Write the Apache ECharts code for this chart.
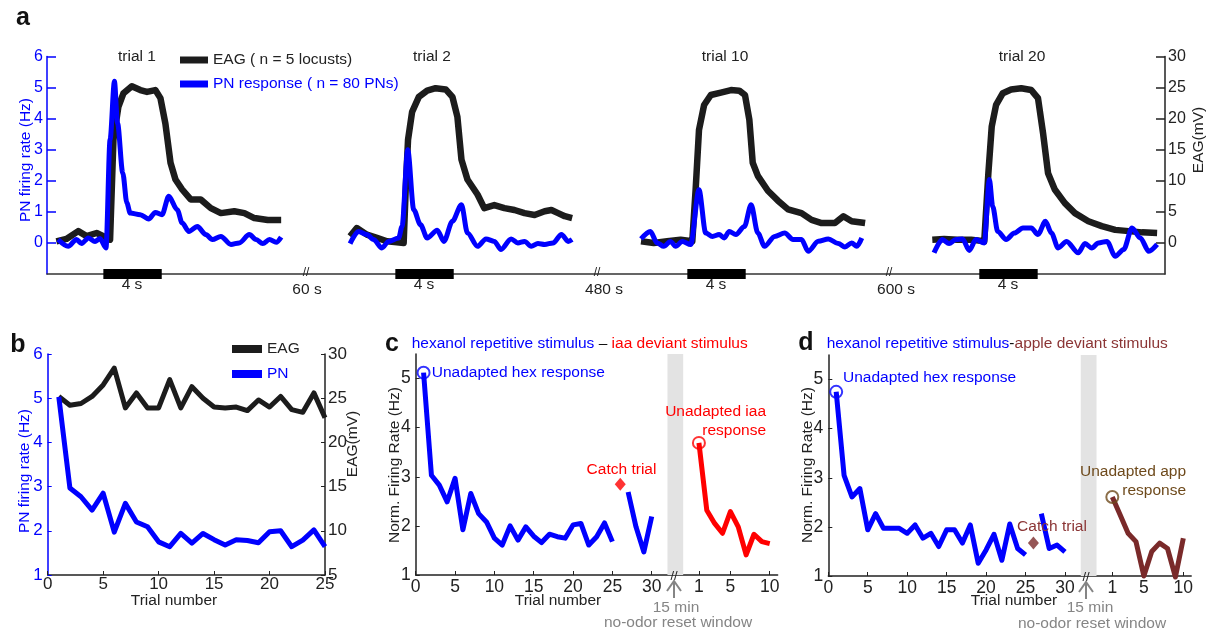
<!DOCTYPE html>
<html><head><meta charset="utf-8">
<script src="https://cdn.jsdelivr.net/npm/echarts@6/dist/echarts.min.js"></script>
<style>html,body{margin:0;padding:0;background:#fff}#c{width:1215px;height:639px}</style>
</head><body><div id="c"></div>
<script>
const FONT = '"Liberation Sans", Arial, Helvetica, sans-serif';

// ---------- panel a : time courses (s relative to odor onset) ----------
const trialLabels = ['trial 1', 'trial 2', 'trial 10', 'trial 20'];
const trialOnsets = [0, 20, 40, 60];          // onset position of each trial on the broken time axis (s)
const stimDuration = 4;                        // s
const breakLabels = ['60 s', '480 s', '600 s'];

const pn1T = [-3.10,-2.41,-1.84,-1.49,-1.03,-0.57,-0.23,0.18,0.46,0.76,0.97,1.33,1.61,1.84,2.53,3.10,3.56,4.02,4.48,5.06,5.40,5.86,6.44,7.01,7.47,8.05,8.74,9.31,10.00,10.46,10.92,11.38,11.84,12.18];
const pn1V = [0.11,-0.11,0.11,-0.02,0.16,0.05,0.14,-0.16,3.32,5.2,3.86,2.25,1.29,0.96,0.91,0.77,0.98,0.91,1.5,1.07,0.64,0.37,0.53,0.27,0.11,0.21,-0.05,0.0,0.27,0.11,-0.02,0.11,0.02,0.19];
const eag1T = [-3.22,-2.53,-1.72,-1.15,-0.46,0,0.46,0.69,1.03,1.38,1.95,2.53,2.99,3.56,3.91,4.25,4.6,4.94,5.4,5.98,6.67,7.36,8.05,8.97,9.66,10.34,11.26,12.18];
const eag1V = [0.26,0.64,1.9,1.1,1.6,1.1,0.53,16.6,21.9,24.1,25.2,24.6,24.3,24.6,23.3,19.2,12.9,10.2,8.6,7.0,7.0,5.6,4.8,5.1,4.8,4.0,3.7,3.7];

const pn2T = [-3.10,-2.53,-1.95,-1.49,-0.92,-0.46,0.23,0.46,0.85,1.26,1.72,2.18,2.87,3.33,3.91,4.53,4.94,5.63,6.21,6.78,7.24,7.93,8.39,8.85,9.31,9.77,10.23,10.80,11.38,11.84,12.11];
const pn2V = [-0.02,0.37,0.27,0.11,-0.16,0.05,0.16,0.53,3.0,1.07,0.59,0.16,0.41,0.05,0.70,1.23,0.32,-0.11,0.13,0.05,-0.21,0.13,0.0,0.05,-0.11,-0.02,-0.05,0.0,0.27,0.05,0.11];
const eag2T = [-3.10,-2.64,-1.95,-1.26,-0.57,0.11,0.57,0.71,0.87,1.15,1.61,2.18,2.76,3.45,3.91,4.25,4.53,4.94,5.63,6.09,6.78,7.47,8.16,8.85,9.54,10.23,10.69,11.15,11.61,12.11];
const eag2V = [1.06,2.4,1.34,0.8,0.27,0.11,0,8.6,16.6,21.1,23.5,24.5,24.9,24.7,23.5,20.3,13.4,10.2,7.8,5.6,6.1,5.6,5.3,4.8,4.5,5.1,5.3,4.8,4.3,4.0];

const pn10T = [-3.17,-2.53,-2.07,-1.61,-1.15,-0.80,-0.34,0.23,0.80,1.26,1.72,2.18,2.53,2.87,3.33,3.91,4.37,4.83,5.29,5.98,6.67,7.24,7.82,8.28,8.97,9.66,10.34,10.80,11.26,11.61,11.95];
const pn10V = [0.13,0.37,0.0,-0.11,0.05,-0.11,0.05,-0.05,1.71,0.32,0.21,0.27,0.16,0.37,0.27,0.53,1.23,0.32,-0.11,0.21,0.32,0.11,0.11,-0.27,0.05,0.13,-0.02,-0.13,0.0,-0.11,0.16];
const eag10T = [-3.17,-2.30,-1.38,-0.46,0.34,0.57,0.80,1.15,1.61,2.30,2.99,3.56,3.95,4.25,4.48,4.83,5.52,6.21,6.90,7.82,8.51,9.20,10.11,10.69,11.26,12.18];
const eag10V = [0.27,0,0.27,0.53,0.27,8.6,18.2,22.2,23.8,24.2,24.6,24.5,23.8,19.8,12.9,10.8,8.4,6.8,5.4,4.8,3.7,3.2,3.2,4.3,3.5,3.2];

const pn20T = [-3.10,-2.53,-2.07,-1.61,-1.15,-0.69,-0.23,0.34,0.69,0.92,1.26,1.84,2.41,2.99,3.56,4.02,4.53,4.94,5.40,5.98,6.78,7.24,7.70,8.16,8.74,9.31,9.89,10.46,11.03,11.61,12.18];
const pn20V = [-0.32,0.11,-0.02,0.11,0.13,-0.24,0.11,0.0,2.04,1.17,0.37,0.11,0.32,0.48,0.48,0.27,0.70,0.32,-0.16,0.05,-0.32,-0.02,-0.16,0.0,0.05,-0.43,-0.21,0.48,0.16,-0.27,-0.05];
const eag20T = [-3.22,-2.41,-1.49,-0.57,0.34,0.62,0.85,1.15,1.61,2.18,2.87,3.56,4.02,4.37,4.71,5.17,5.86,6.55,7.47,8.39,9.31,10.23,11.15,12.18];
const eag20V = [0.53,0.64,0.53,0.53,0.27,11.2,18.7,22.2,24.1,24.7,24.9,24.6,23.3,17.6,11.2,8.6,6.4,4.8,3.5,2.7,2.1,1.9,1.7,1.6];

// ---------- panel b : per-trial means ----------
const pnB  = [5.03,2.97,2.77,2.47,2.85,1.97,2.62,2.2,2.09,1.75,1.64,1.94,1.72,1.94,1.8,1.68,1.8,1.78,1.73,1.98,2.0,1.64,1.79,2.02,1.64];
const eagB = [25.2,24.2,24.4,25.2,26.5,28.4,23.9,25.6,23.9,23.9,27.1,23.9,26.3,25.0,24.0,23.9,24.0,23.6,24.8,24.0,25.2,23.7,23.4,25.6,22.8];

// ---------- panel c ----------
const hexC   = [5.12,3.03,2.83,2.49,2.97,1.92,2.66,2.25,2.08,1.75,1.61,2.0,1.71,1.98,1.79,1.66,1.83,1.78,1.75,2.02,2.05,1.61,1.78,2.06,1.68]; // trials 1-25
const hexC2  = [2.69,1.98,1.47,2.19];  // trials 27-30
const catchC = 2.85;                   // trial 26
const iaaC   = [3.69,2.32,2.05,1.85,2.29,1.98,1.41,1.83,1.68,1.64]; // deviant trials 1-10

// ---------- panel d ----------
const hexD   = [4.75,3.05,2.61,2.78,1.94,2.27,1.97,1.97,1.97,1.87,2.04,1.77,1.87,1.6,1.94,1.94,1.67,2.04,1.26,1.53,1.85,1.32,2.06,1.56,1.43];
const hexD2  = [2.27,1.56,1.63,1.49];
const catchD = 1.67;
const appleD = [2.61,2.24,1.87,1.7,1.0,1.5,1.67,1.56,0.98,1.77];

// axis layout for c/d: deviant trial k plotted at devOffset + k
const devOffset = 35;
const cdTicks = [0,5,10,15,20,25,30,36,40,45];
const catchTrial = 26;
const resetWindow = [32, 34];

const BLUE = '#0000ff', RED = '#ff0000', BLK = '#1c1c1c', APPLE = '#7a2a2a', APPLE_T = '#8b3535', APPLE_O = '#6e4a1c', GREY = '#858585';

const pnT = [pn1T, pn2T, pn10T, pn20T], pnV = [pn1V, pn2V, pn10V, pn20V];
const eagT = [eag1T, eag2T, eag10T, eag20T], eagV = [eag1V, eag2V, eag10V, eag20V];
const EAG_A = 'EAG ( n = 5 locusts)', PN_A = 'PN response ( n = 80 PNs)';

const series = [];
for (let k = 0; k < 4; k++) {
  const off = trialOnsets[k];
  series.push({ type: 'line', name: EAG_A, xAxisIndex: 0, yAxisIndex: 1, showSymbol: false, symbol: 'none',
    color: BLK, itemStyle: { color: BLK }, lineStyle: { color: BLK, width: 6.5, join: 'round' },
    data: eagT[k].map((t, i) => [t + off, eagV[k][i]]), z: 2, silent: true });
}
for (let k = 0; k < 4; k++) {
  const off = trialOnsets[k];
  series.push({ type: 'line', name: PN_A, xAxisIndex: 0, yAxisIndex: 0, showSymbol: false, symbol: 'none',
    smooth: 0.3, smoothMonotone: 'x',
    color: BLUE, itemStyle: { color: BLUE }, lineStyle: { color: BLUE, width: 5, join: 'round' },
    data: pnT[k].map((t, i) => [t + off, pnV[k][i]]), z: 3, silent: true });
}
for (let k = 0; k < 4; k++) {
  const off = trialOnsets[k];
  series.push({ type: 'line', name: 'stim', xAxisIndex: 0, yAxisIndex: 0, symbol: 'none', clip: false, silent: true,
    lineStyle: { color: '#000', width: 10, cap: 'butt' }, data: [[off, -1], [off + stimDuration, -1]], z: 5 });
}
// panel b
series.push({ type: 'line', name: 'EAG', xAxisIndex: 1, yAxisIndex: 3, symbol: 'none', color: BLK, itemStyle: { color: BLK },
  lineStyle: { color: BLK, width: 5, join: 'round' }, data: eagB.map((v, i) => [i + 1, v]), silent: true });
series.push({ type: 'line', name: 'PN', xAxisIndex: 1, yAxisIndex: 2, symbol: 'none', color: BLUE, itemStyle: { color: BLUE },
  lineStyle: { color: BLUE, width: 5, join: 'round' }, data: pnB.map((v, i) => [i + 1, v]), silent: true });

function cdSeries(xi, yi, hex, hex2, catchVal, dev, devColor, catchColor, circColor) {
  return [
    { type: 'line', xAxisIndex: xi, yAxisIndex: yi, symbol: 'none', silent: true,
      lineStyle: { color: BLUE, width: 5, join: 'round' }, data: hex.map((v, i) => [i + 1, v]), z: 3,
      markArea: { silent: true, itemStyle: { color: '#e3e3e3' }, data: [[{ xAxis: resetWindow[0] }, { xAxis: resetWindow[1] }]] } },
    { type: 'line', xAxisIndex: xi, yAxisIndex: yi, symbol: 'none', silent: true,
      lineStyle: { color: BLUE, width: 5, join: 'round' }, data: hex2.map((v, i) => [catchTrial + 1 + i, v]), z: 3 },
    { type: 'line', xAxisIndex: xi, yAxisIndex: yi, symbol: 'none', silent: true, clip: false,
      lineStyle: { color: devColor, width: 5, join: 'round' }, data: dev.map((v, i) => [devOffset + 1 + i, v]), z: 3 },
    { type: 'scatter', xAxisIndex: xi, yAxisIndex: yi, symbol: 'diamond', symbolSize: [11, 13], silent: true,
      itemStyle: { color: catchColor }, data: [[catchTrial, catchVal]], z: 4 },
    { type: 'scatter', xAxisIndex: xi, yAxisIndex: yi, symbol: 'circle', symbolSize: 12, silent: true,
      itemStyle: { color: 'rgba(0,0,0,0)', borderColor: BLUE, borderWidth: 2 }, data: [[1, hex[0]]], z: 5 },
    { type: 'scatter', xAxisIndex: xi, yAxisIndex: yi, symbol: 'circle', symbolSize: 12, silent: true,
      itemStyle: { color: 'rgba(0,0,0,0)', borderColor: circColor, borderWidth: 2 }, data: [[devOffset + 1, dev[0]]], z: 5 }
  ];
}
series.push(...cdSeries(2, 4, hexC, hexC2, catchC, iaaC, RED, RED, RED));
series.push(...cdSeries(3, 5, hexD, hexD2, catchD, appleD, APPLE, APPLE, APPLE_O));

const axLine = (c) => ({ show: true, onZero: false, lineStyle: { color: c, width: 1.5 } });
const lbl = (c, fs, m) => ({ color: c, fontSize: fs, fontFamily: FONT, margin: m });

const xAxis = [
  { gridIndex: 0, type: 'value', min: -3.86, max: 72.72, axisLine: axLine('#333'), axisTick: { show: false }, axisLabel: { show: false }, splitLine: { show: false } },
  { gridIndex: 1, type: 'value', min: 0, max: 25, interval: 5, axisLine: axLine('#222'), axisTick: { inside: true, length: 4, lineStyle: { color: '#222' } },
    axisLabel: lbl('#222', 17, 1), splitLine: { show: false } },
  { gridIndex: 2, type: 'value', min: 0, max: 46, axisLine: axLine('#222'), axisTick: { inside: true, length: 4, customValues: cdTicks, lineStyle: { color: '#222' } },
    axisLabel: Object.assign(lbl('#222', 17.5, 3), { customValues: cdTicks, formatter: v => v > 33 ? String(v - devOffset) : String(v) }), splitLine: { show: false } },
  { gridIndex: 3, type: 'value', min: 0, max: 46, axisLine: axLine('#222'), axisTick: { inside: true, length: 4, customValues: cdTicks, lineStyle: { color: '#222' } },
    axisLabel: Object.assign(lbl('#222', 17.5, 3), { customValues: cdTicks, formatter: v => v > 33 ? String(v - devOffset) : String(v) }), splitLine: { show: false } }
];
const yAxis = [
  { gridIndex: 0, type: 'value', position: 'left', min: -1, max: 6, interval: 1, axisLine: axLine(BLUE),
    axisTick: { inside: true, length: 9, customValues: [0,1,2,3,4,5,6], lineStyle: { color: BLUE, width: 1.5 } },
    axisLabel: Object.assign(lbl(BLUE, 16, 4), { customValues: [0,1,2,3,4,5,6] }), splitLine: { show: false } },
  { gridIndex: 0, type: 'value', position: 'right', min: -5, max: 30, interval: 5, axisLine: axLine('#222'),
    axisTick: { inside: true, length: 9, customValues: [0,5,10,15,20,25,30], lineStyle: { color: '#222', width: 1.5 } },
    axisLabel: Object.assign(lbl('#222', 16, 3), { customValues: [0,5,10,15,20,25,30] }), splitLine: { show: false } },
  { gridIndex: 1, type: 'value', position: 'left', min: 1, max: 6, interval: 1, axisLine: axLine(BLUE),
    axisTick: { inside: true, length: 4, lineStyle: { color: BLUE } }, axisLabel: lbl(BLUE, 17, 5), splitLine: { show: false } },
  { gridIndex: 1, type: 'value', position: 'right', min: 5, max: 30, interval: 5, axisLine: axLine('#222'),
    axisTick: { inside: true, length: 4, lineStyle: { color: '#222' } }, axisLabel: lbl('#222', 17, 3), splitLine: { show: false } },
  { gridIndex: 2, type: 'value', min: 1, max: 5.5, interval: 1, axisLine: axLine('#222'),
    axisTick: { inside: true, length: 4, customValues: [1,2,3,4,5], lineStyle: { color: '#222' } },
    axisLabel: Object.assign(lbl('#222', 17.5, 5), { customValues: [1,2,3,4,5] }), splitLine: { show: false } },
  { gridIndex: 3, type: 'value', min: 1, max: 5.5, interval: 1, axisLine: axLine('#222'),
    axisTick: { inside: true, length: 4, customValues: [1,2,3,4,5], lineStyle: { color: '#222' } },
    axisLabel: Object.assign(lbl('#222', 17.5, 5), { customValues: [1,2,3,4,5] }), splitLine: { show: false } }
];

const grid = [
  { left: 47, top: 56.5, width: 1118, height: 217.5, containLabel: false },
  { left: 47.7, top: 354, width: 277.3, height: 221, containLabel: false },
  { left: 415.7, top: 354, width: 361.9, height: 221, containLabel: false },
  { left: 828.3, top: 355, width: 362.9, height: 221, containLabel: false }
];

function T(text, x, y, style, rot) {
  return { type: 'text', x: x, y: y, rotation: rot || 0, silent: true, z: 100,
    style: Object.assign({ text: text, fontFamily: FONT, fontSize: 15.5, fill: '#222', align: 'center', verticalAlign: 'middle' }, style || {}) };
}
function arrow(x, y0) {
  return [
    { type: 'polyline', silent: true, z: 100, shape: { points: [[x - 7, y0 + 10], [x, y0], [x + 7, y0 + 10]] }, style: { stroke: GREY, lineWidth: 2, fill: null } },
    { type: 'line', silent: true, z: 100, shape: { x1: x, y1: y0, x2: x, y2: y0 + 17 }, style: { stroke: GREY, lineWidth: 2 } }
  ];
}
const R90 = Math.PI / 2;
const bold = { fontSize: 25, fontWeight: 'bold', fill: '#111' };
const graphic = [
  T('a', 23, 18, bold),
  T(trialLabels[0], 137, 57), T(trialLabels[1], 432, 57), T(trialLabels[2], 725, 57), T(trialLabels[3], 1022, 57),
  T('4 s', 132, 285), T('4 s', 424, 285), T('4 s', 716, 285), T('4 s', 1008, 285),
  T('//', 306, 273, { fontSize: 12 }), T('//', 597, 273, { fontSize: 12 }), T('//', 889, 273, { fontSize: 12 }),
  T(breakLabels[0], 307, 290), T(breakLabels[1], 604, 290), T(breakLabels[2], 896, 290),
  T('PN firing rate (Hz)', 26, 160, { fill: BLUE }, R90),
  T('EAG(mV)', 1199, 140, {}, R90),

  T('b', 18, 345, bold),
  T('PN firing rate (Hz)', 25, 471, { fill: BLUE }, R90),
  T('EAG(mV)', 353, 444, {}, R90),
  T('Trial number', 174, 601),

  T('c', 392, 344, bold),
  T('{b|hexanol repetitive stimulus} {k|–} {r|iaa deviant stimulus}', 411.7, 344,
    { align: 'left', rich: { b: { fill: BLUE, fontSize: 15.5, fontFamily: FONT }, k: { fill: '#111', fontSize: 15.5, fontFamily: FONT }, r: { fill: RED, fontSize: 15.5, fontFamily: FONT } } }),
  T('Norm. Firing Rate (Hz)', 395, 465, {}, R90),
  T('Trial number', 558, 601),
  T('Unadapted hex response', 431.7, 373, { fill: BLUE, align: 'left' }),
  T('Catch trial', 621.5, 470, { fill: RED }),
  T('Unadapted iaa\nresponse', 766, 421, { fill: RED, align: 'right', lineHeight: 18.5 }),
  T('//', 674, 576, { fontSize: 13 }),
  ...arrow(674, 581),
  T('15 min', 676, 608, { fill: GREY }),
  T('no-odor reset window', 678, 623, { fill: GREY }),

  T('d', 806, 343, bold),
  T('{b|hexanol repetitive stimulus}{k|-}{r|apple deviant stimulus}', 826.7, 344,
    { align: 'left', rich: { b: { fill: BLUE, fontSize: 15.5, fontFamily: FONT }, k: { fill: '#111', fontSize: 15.5, fontFamily: FONT }, r: { fill: APPLE_T, fontSize: 15.5, fontFamily: FONT } } }),
  T('Norm. Firing Rate (Hz)', 808, 465, {}, R90),
  T('Trial number', 1014, 601),
  T('Unadapted hex response', 843, 378, { fill: BLUE, align: 'left' }),
  T('Catch trial', 1052, 527, { fill: APPLE_T }),
  T('Unadapted app\nresponse', 1186, 481, { fill: APPLE_O, align: 'right', lineHeight: 18.5 }),
  T('//', 1086, 577, { fontSize: 13 }),
  ...arrow(1086, 582),
  T('15 min', 1090, 608, { fill: GREY }),
  T('no-odor reset window', 1092, 624, { fill: GREY })
];

const legend = [
  { left: 175, top: 46, orient: 'vertical', icon: 'rect', itemWidth: 28, itemHeight: 7, itemGap: 6, selectedMode: false,
    textStyle: { fontSize: 15.5, fontFamily: FONT, color: '#222', lineHeight: 18 },
    data: [{ name: EAG_A }, { name: PN_A, textStyle: { color: BLUE } }] },
  { left: 227, top: 335, orient: 'vertical', icon: 'rect', itemWidth: 30, itemHeight: 8, itemGap: 7, selectedMode: false,
    textStyle: { fontSize: 15.5, fontFamily: FONT, color: '#222', lineHeight: 18 },
    data: [{ name: 'EAG' }, { name: 'PN', textStyle: { color: BLUE } }] }
];

const chart = echarts.init(document.getElementById('c'), null, { renderer: 'canvas' });
chart.setOption({
  animation: false,
  backgroundColor: '#fff',
  textStyle: { fontFamily: FONT },
  grid, xAxis, yAxis, series, legend, graphic
});
</script></body></html>
